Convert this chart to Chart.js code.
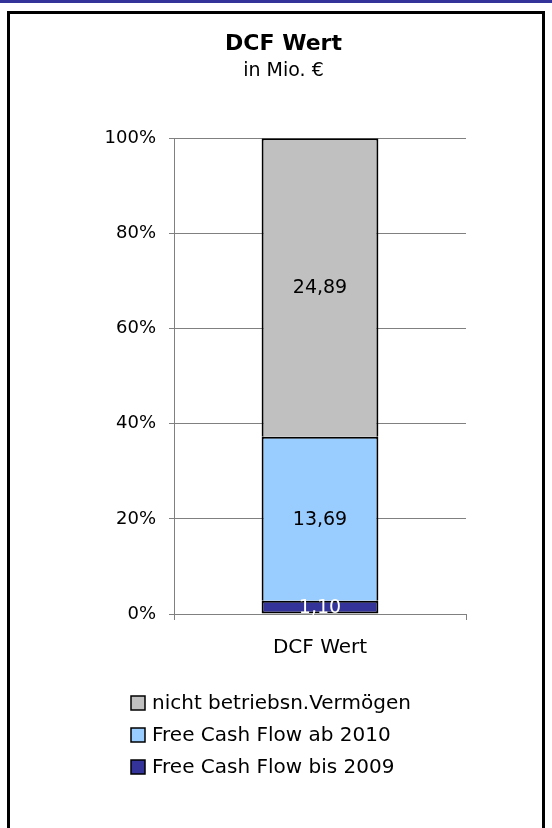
<!DOCTYPE html>
<html>
<head>
<meta charset="utf-8">
<script src="https://cdn.jsdelivr.net/npm/chart.js@4"></script>
<style>
    body { margin: 0; background: #fff; }
    #topline { position: absolute; left: 0; top: 0; width: 552px; height: 3px; background: #333399; }
    #rahmen { position: absolute; left: 7px; top: 11px; width: 532px; height: 830px; border: 3px solid #000; border-bottom: none; }
    #grafico-dcf { position: absolute; left: 0; top: 0; }
</style>
</head>
<body>
<div id="topline"></div>
<div id="rahmen">
    <canvas id="grafico-dcf" width="532" height="814"></canvas>
</div>
<script>
// Daten (in Mio. €)
const kategorien = ['DCF Wert'];
const serienNamen = ['Free Cash Flow bis 2009', 'Free Cash Flow ab 2010', 'nicht betriebsn.Vermögen'];
const fcfBis2009 = [1.10];
const fcfAb2010 = [13.69];
const nichtBetrieb = [24.89];
const yTicks = [0, 20, 40, 60, 80, 100];

const serienWerte = [fcfBis2009, fcfAb2010, nichtBetrieb];
const farben = ['#333399', '#99CCFF', '#C0C0C0'];
const labelFarben = ['#ffffff', '#000000', '#000000'];
const schrift = 'DejaVu Sans';

// Summe pro Kategorie für 100%-Darstellung
const summen = kategorien.map((_, j) => serienWerte.reduce((s, werte) => s + werte[j], 0));

function formatDe(v) {
    return v.toFixed(2).replace('.', ',');
}

// Plugin: Werte in die Balken schreiben
const wertLabels = {
    id: 'wertLabels',
    afterDatasetsDraw(chart) {
        const ctx = chart.ctx;
        ctx.save();
        ctx.font = '19px "' + schrift + '"';
        ctx.textAlign = 'center';
        ctx.textBaseline = 'middle';
        chart.data.datasets.forEach((ds, i) => {
            const meta = chart.getDatasetMeta(i);
            meta.data.forEach((bar, j) => {
                const p = bar.getCenterPoint();
                ctx.fillStyle = labelFarben[i];
                ctx.fillText(formatDe(serienWerte[i][j]), p.x, p.y + 1);
            });
        });
        ctx.restore();
    }
};

// Plugin: Legende untereinander (obere Serie zuerst)
const legendeVertikal = {
    id: 'legendeVertikal',
    afterDraw(chart) {
        const ctx = chart.ctx;
        const basisY = chart.chartArea.bottom + 89;
        ctx.save();
        ctx.font = '20px "' + schrift + '"';
        ctx.textAlign = 'left';
        ctx.textBaseline = 'middle';
        const reihen = chart.data.datasets.slice().reverse();
        reihen.forEach((ds, k) => {
            const y = basisY + k * 32;
            ctx.fillStyle = ds.backgroundColor;
            ctx.fillRect(121, y - 7, 14, 14);
            ctx.strokeStyle = '#000';
            ctx.lineWidth = 1.5;
            ctx.strokeRect(121, y - 7, 14, 14);
            ctx.fillStyle = '#000';
            ctx.fillText(ds.label, 142, y + 1);
        });
        ctx.restore();
    }
};

function criarGraficoDcf() {
    const ctx = document.getElementById('grafico-dcf').getContext('2d');

    new Chart(ctx, {
        type: 'bar',
        data: {
            labels: kategorien,
            datasets: serienWerte.map((werte, i) => ({
                label: serienNamen[i],
                data: werte.map((v, j) => v / summen[j] * 100),
                backgroundColor: farben[i],
                borderColor: '#000000',
                borderWidth: 2,
                // nur eine Trennlinie zwischen den gestapelten Segmenten
                borderSkipped: i === 0 ? false : 'bottom',
                barPercentage: 0.4,
                categoryPercentage: 1.0
            }))
        },
        options: {
            responsive: false,
            animation: false,
            layout: { padding: { left: 91, right: 76, top: 0, bottom: 154 } },
            scales: {
                x: {
                    stacked: true,
                    offset: true,
                    grid: { offset: true, drawOnChartArea: false, color: '#808080', tickLength: 6, tickColor: '#808080' },
                    border: { color: '#808080', width: 1 },
                    ticks: { color: '#000', font: { family: schrift, size: 20 }, padding: 16 },
                    afterFit: function (scale) { scale.height = 60; }
                },
                y: {
                    stacked: true,
                    min: 0,
                    max: 100,
                    afterBuildTicks: function (scale) { scale.ticks = yTicks.map(v => ({ value: v })); },
                    grid: { color: '#808080', tickLength: 5, tickColor: '#808080' },
                    border: { color: '#808080', width: 1 },
                    ticks: {
                        color: '#000',
                        font: { family: schrift, size: 18 },
                        padding: 13,
                        callback: function (value) { return value + '%'; }
                    },
                    afterFit: function (scale) { scale.width = 73; }
                }
            },
            plugins: {
                legend: { display: false },
                tooltip: { enabled: false },
                title: {
                    display: true,
                    text: 'DCF Wert',
                    color: '#000',
                    font: { family: schrift, size: 22, weight: 'bold' },
                    padding: { top: 17, bottom: 0 }
                },
                subtitle: {
                    display: true,
                    text: 'in Mio. €',
                    color: '#000',
                    font: { family: schrift, size: 19 },
                    padding: { top: 2, bottom: 56 }
                }
            }
        },
        plugins: [wertLabels, legendeVertikal]
    });
}

criarGraficoDcf();
</script>
</body>
</html>
